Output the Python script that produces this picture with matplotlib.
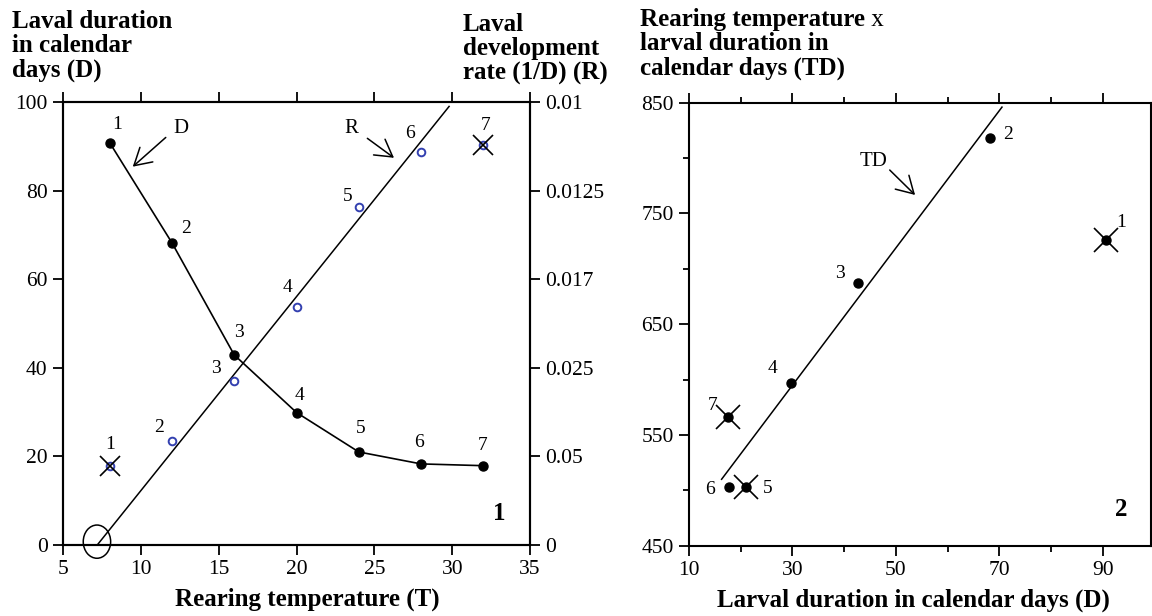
import numpy as np
import matplotlib
matplotlib.use("Agg")
import matplotlib.pyplot as plt
from matplotlib.patches import Ellipse

plt.rcParams['font.family'] = ['Liberation Serif', 'DejaVu Serif']

# panel 1: rearing temperature vs larval duration (D) and rate (R)
temp = [8, 12, 16, 20, 24, 28, 32]
dur = [90.8, 68.2, 42.9, 29.9, 21.0, 18.3, 17.9]
rate_pos = [17.8, 23.5, 37.1, 53.7, 76.4, 88.7, 90.3]   # R plotted on the left scale
rate_out = [0, 6]                                       # crossed-out points
rate_fit_t = [7.2, 29.8]
rate_fit_v = [0.0, 99.0]
y1_ticks = [0, 20, 40, 60, 80, 100]
y1_right_labels = ['0', '0.05', '0.025', '0.017', '0.0125', '0.01']

# panel 2: larval duration vs T x D
td_dur = [90.6, 68.2, 42.7, 29.7, 21.0, 17.8, 17.5]
td_val = [726, 818, 687, 597, 503, 503, 566]
td_out = [0, 4, 6]
td_fit_d = [16.3, 70.5]
td_fit_v = [510, 846]

# label offsets in pixels (dx, dy)
dur_off = [(7, 18), (14, 14), (5, 22), (3, 17), (2, 23), (-2, 21), (-1, 20)]
rate_off = [(0, 22), (-13, 13), (-18, 12), (-9, 20), (-11, 10), (-11, 19), (2, 19)]
td_off = [(15, 18), (18, 4), (-18, 10), (-18, 14), (22, -1), (-19, -2), (-15, 12)]

blue = '#3340b0'
tick_fs = 15.5
num_fs = 14

fig = plt.figure(figsize=(11.52, 6.16), dpi=100)
ax1 = fig.add_axes([0.0547, 0.1153, 0.4054, 0.7191])
ax2 = fig.add_axes([0.5981, 0.1141, 0.401, 0.7192])

for ax in (ax1, ax2):
    for s in ax.spines.values():
        s.set_linewidth(1.5)
    ax.tick_params(which='both', direction='out', width=1.3, top=True, right=True,
                   labelsize=tick_fs, pad=4)
    ax.tick_params(which='major', length=7)
    ax.tick_params(which='minor', length=4)

# ---- panel 1 ----
ax1.plot(temp, dur, color='black', lw=1.2, marker='o', ms=6.5, zorder=3)
ax1.plot(rate_fit_t, rate_fit_v, color='black', lw=1.1, zorder=2)
ax1.plot(temp, rate_pos, ls='none', marker='o', ms=5.5, mfc='white', mec=blue, mew=1.4, zorder=4)
ax1.plot([temp[i] for i in rate_out], [rate_pos[i] for i in rate_out], ls='none',
         marker='x', ms=15, mec='black', mew=1.2, zorder=5)

for i in range(len(temp)):
    ax1.annotate(str(i + 1), (temp[i], dur[i]), xytext=dur_off[i], textcoords='offset pixels',
                 ha='center', va='center', fontsize=num_fs)
    ax1.annotate(str(i + 1), (temp[i], rate_pos[i]), xytext=rate_off[i], textcoords='offset pixels',
                 ha='center', va='center', fontsize=num_fs)

arr = dict(arrowstyle='->, head_length=0.6, head_width=0.35', lw=1.1, color='black',
           mutation_scale=20, shrinkA=0, shrinkB=0)
ax1.text(12.6, 94, 'D', fontsize=15, ha='center', va='center')
ax1.annotate('', xy=(9.48, 85.4), xytext=(11.6, 92), arrowprops=arr)
ax1.text(23.5, 94, 'R', fontsize=15, ha='center', va='center')
ax1.annotate('', xy=(26.26, 87.4), xytext=(24.55, 91.8), arrowprops=arr)
ax1.text(33, 7.2, '1', fontsize=18, fontweight='bold', ha='center', va='center')
ax1.add_patch(Ellipse((7.18, 0.75), 1.76, 7.5, fill=False, lw=1.1, clip_on=False))

ax1.set_xlim(5, 35)
ax1.set_ylim(0, 100)
ax1.set_xticks(np.arange(5, 36, 5))
ax1.set_yticks(y1_ticks)
ax1.set_xlabel('Rearing temperature (T)', fontsize=18, fontweight='bold', labelpad=6, x=0.524)

ax1r = ax1.twinx()
ax1r.set_ylim(0, 100)
ax1r.set_yticks(y1_ticks)
ax1r.set_yticklabels(y1_right_labels)
ax1r.tick_params(direction='out', length=7, width=1.3, labelsize=tick_fs, pad=4)
for s in ax1r.spines.values():
    s.set_linewidth(1.5)
ax1.tick_params(labelright=False)

# ---- panel 2 ----
ax2.plot(td_fit_d, td_fit_v, color='black', lw=1.1)
ax2.plot(td_dur, td_val, ls='none', marker='o', ms=6.5, color='black', zorder=3)
ax2.plot([td_dur[i] for i in td_out], [td_val[i] for i in td_out], ls='none',
         marker='x', ms=17, mec='black', mew=1.2, zorder=4)
for i in range(len(td_dur)):
    ax2.annotate(str(i + 1), (td_dur[i], td_val[i]), xytext=td_off[i], textcoords='offset pixels',
                 ha='center', va='center', fontsize=num_fs)
ax2.text(45.6, 797, 'TD', fontsize=15, ha='center', va='center')
ax2.annotate('', xy=(53.7, 766.7), xytext=(48.8, 789.2), arrowprops=arr)
ax2.text(93.6, 483, '2', fontsize=18, fontweight='bold', ha='center', va='center')

ax2.set_xlim(10, 99.3)
ax2.set_ylim(450, 850)
ax2.set_xticks([10, 30, 50, 70, 90])
ax2.set_xticks([20, 40, 60, 80], minor=True)
ax2.set_yticks([450, 550, 650, 750, 850])
ax2.set_yticks([500, 600, 700, 800], minor=True)
ax2.tick_params(labelright=False)
ax2.set_xlabel('Larval duration in calendar days (D)', fontsize=18, fontweight='bold',
               labelpad=6, x=0.486)

# ---- axis titles ----
W, H = 1152.0, 616.0
tfs = 18
def line(x, y, s, **kw):
    return fig.text(x / W, 1 - y / H, s, fontsize=tfs, fontweight='bold', va='baseline', ha='left', **kw)

for k, s in enumerate(['Laval duration', 'in calendar', 'days (D)']):
    line(12, 28 + 24.5 * k, s)
for k, s in enumerate(['Laval', 'development', 'rate (1/D) (R)']):
    line(463, 31 + 24.5 * k, s)
t0 = line(640, 26, 'Rearing temperature')
tx = fig.text(0, 1 - 26 / H, ' x', fontsize=tfs, fontweight='normal', va='baseline', ha='left')
line(640, 50.5, 'larval duration in')
line(640, 75, 'calendar days (TD)')

fig.canvas.draw()
bb = t0.get_window_extent()
tx.set_position((bb.x1 / W, 1 - 26 / H))

fig.savefig('out.png', dpi=100)
